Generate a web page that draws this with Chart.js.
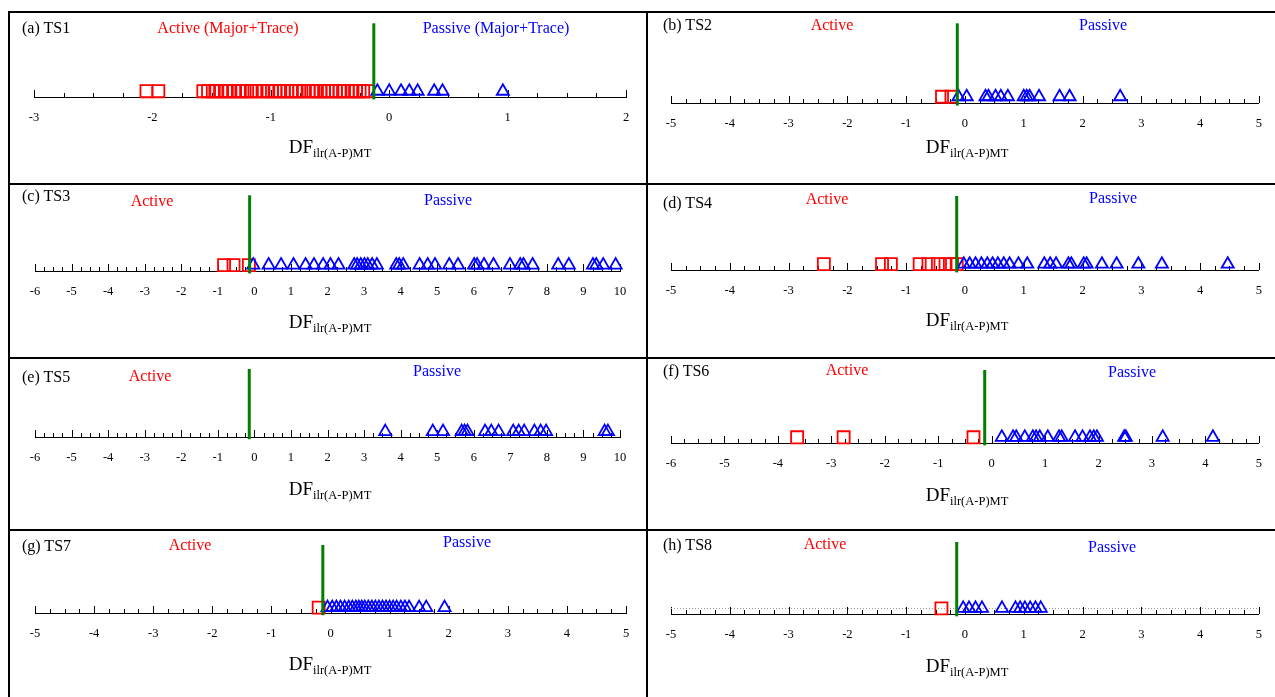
<!DOCTYPE html>
<html>
<head>
<meta charset="utf-8">
<script src="https://cdn.jsdelivr.net/npm/chart.js@4.4.1/dist/chart.umd.min.js"></script>
<style>
  body { margin: 0; width: 1275px; height: 697px; overflow: hidden; position: relative; background: #fff;
         font-family: 'Liberation Serif', 'Times New Roman', serif; }
  .rule { position: absolute; background: #000; }
  canvas { position: absolute; }
  .txt { position: absolute; white-space: nowrap; font-size: 16px; line-height: 1; transform: translateY(-50%); }
  .ctr { transform: translate(-50%, -50%); }
  .red { color: #ff0000; }
  .blue { color: #0000ff; }
  .df { font-size: 19px; }
  .df sub { font-size: 12.5px; vertical-align: -4px; }
</style>
</head>
<body>
<script>
// panel names and group labels
const panelNames = ['(a) TS1', '(b) TS2', '(c) TS3', '(d) TS4', '(e) TS5', '(f) TS6', '(g) TS7', '(h) TS8'];
const activeTitles = ['Active (Major+Trace)', 'Active', 'Active', 'Active', 'Active', 'Active', 'Active', 'Active'];
const passiveTitles = ['Passive (Major+Trace)', 'Passive', 'Passive', 'Passive', 'Passive', 'Passive', 'Passive', 'Passive'];

// axis ranges and discriminant cut-off (green line)
const xMin = [-3, -5, -6, -5, -6, -6, -5, -5];
const xMax = [2, 5, 10, 5, 10, 5, 5, 5];
const cutoff = [-0.13, -0.13, -0.13, -0.14, -0.14, -0.13, -0.13, -0.14];

// DF scores, active (squares) and passive (triangles)
const activeTS1 = [-2.05, -1.95, -1.57, -1.53, -1.49, -1.46, -1.42, -1.38, -1.35, -1.31, -1.27, -1.24, -1.20, -1.16,
                   -1.12, -1.07, -1.03, -0.99, -0.96, -0.92, -0.89, -0.86, -0.83, -0.79, -0.76, -0.72, -0.68, -0.64,
                   -0.61, -0.58, -0.55, -0.52, -0.48, -0.45, -0.42, -0.39, -0.35, -0.31, -0.28, -0.25, -0.22, -0.18];
const passiveTS1 = [-0.10, 0.00, 0.10, 0.17, 0.24, 0.38, 0.45, 0.96];
const activeTS2 = [-0.39, -0.23];
const passiveTS2 = [-0.11, 0.03, 0.35, 0.40, 0.52, 0.61, 0.73, 1.00, 1.05, 1.10, 1.26, 1.61, 1.78, 2.64];
const activeTS3 = [-0.83, -0.57, -0.15];
const passiveTS3 = [-0.03, 0.39, 0.73, 1.07, 1.40, 1.63, 1.88, 2.08, 2.30, 2.73, 2.81, 2.91, 3.01, 3.10, 3.22, 3.35,
                    3.88, 3.96, 4.07, 4.52, 4.74, 4.94, 5.33, 5.57, 6.01, 6.09, 6.28, 6.54, 6.99, 7.27, 7.36, 7.61,
                    8.31, 8.60, 9.26, 9.35, 9.54, 9.88];
const activeTS4 = [-2.40, -1.41, -1.26, -0.77, -0.62, -0.46, -0.33, -0.22, -0.14];
const passiveTS4 = [-0.02, 0.08, 0.18, 0.28, 0.38, 0.47, 0.56, 0.66, 0.76, 0.91, 1.06, 1.35, 1.45, 1.55, 1.76, 1.81,
                    2.02, 2.07, 2.33, 2.58, 2.95, 3.35, 4.47];
const activeTS5 = [];
const passiveTS5 = [3.58, 4.88, 5.16, 5.67, 5.75, 5.83, 6.31, 6.48, 6.68, 7.08, 7.23, 7.38, 7.66, 7.83, 7.98, 9.58, 9.67];
const activeTS6 = [-3.64, -2.77, -0.34];
const passiveTS6 = [0.19, 0.40, 0.46, 0.62, 0.77, 0.83, 0.90, 1.05, 1.26, 1.31, 1.56, 1.70, 1.84, 1.91, 1.97, 2.48,
                    2.51, 3.20, 4.14];
const activeTS7 = [-0.20];
const passiveTS7 = [-0.05, 0.03, 0.10, 0.17, 0.24, 0.31, 0.37, 0.43, 0.48, 0.53, 0.58, 0.64, 0.70, 0.76, 0.82, 0.88,
                    0.94, 1.00, 1.06, 1.12, 1.19, 1.26, 1.33, 1.50, 1.62, 1.93];
const activeTS8 = [-0.40];
const passiveTS8 = [-0.03, 0.07, 0.18, 0.29, 0.63, 0.86, 0.94, 1.02, 1.11, 1.20, 1.29];

const activeSets = [activeTS1, activeTS2, activeTS3, activeTS4, activeTS5, activeTS6, activeTS7, activeTS8];
const passiveSets = [passiveTS1, passiveTS2, passiveTS3, passiveTS4, passiveTS5, passiveTS6, passiveTS7, passiveTS8];

// page layout of every panel (pixels)
const layout = [
  { box: [10, 13, 637, 170],  x0: 34,  x1: 626,  axis: 97,  top: 20,  name: [22, 28],   act: [228, 28],  pas: [496, 28],  df: [330, 148] },
  { box: [649, 13, 626, 170], x0: 671, x1: 1264, axis: 103, top: 20,  name: [663, 25],  act: [832, 25],  pas: [1103, 25], df: [967, 148] },
  { box: [10, 185, 637, 172], x0: 35,  x1: 620,  axis: 271, top: 194, name: [22, 196],  act: [152, 201], pas: [448, 200], df: [330, 323] },
  { box: [649, 185, 626, 172],x0: 671, x1: 1264, axis: 270, top: 196, name: [663, 203], act: [827, 199], pas: [1113, 198],df: [967, 321] },
  { box: [10, 359, 637, 170], x0: 35,  x1: 620,  axis: 437, top: 369, name: [22, 377],  act: [150, 376], pas: [437, 371], df: [330, 490] },
  { box: [649, 359, 626, 170],x0: 671, x1: 1264, axis: 443, top: 370, name: [663, 371], act: [847, 370], pas: [1132, 372],df: [967, 496] },
  { box: [10, 531, 637, 166], x0: 35,  x1: 626,  axis: 613, top: 545, name: [22, 546],  act: [190, 545], pas: [467, 542], df: [330, 665] },
  { box: [649, 531, 626, 166],x0: 671, x1: 1264, axis: 614, top: 542, name: [663, 545], act: [825, 544], pas: [1112, 547],df: [967, 667] }
];

const SCALE_H = 40;
const Y_MIN = -0.085, Y_MAX = 1, LINE_LO = -0.12;

// frame lines
function rule(x, y, w, h) {
  const d = document.createElement('div');
  d.className = 'rule';
  Object.assign(d.style, { left: x + 'px', top: y + 'px', width: w + 'px', height: h + 'px' });
  document.body.appendChild(d);
}
rule(8, 11, 1267, 2);
rule(8, 183, 1267, 2);
rule(8, 357, 1267, 2);
rule(8, 529, 1267, 2);
rule(8, 11, 2, 686);
rule(646, 11, 2, 686);

function text(html, pos, cls, centred) {
  const d = document.createElement('div');
  d.className = 'txt ' + cls + (centred ? ' ctr' : '');
  d.innerHTML = html;
  d.style.left = pos[0] + 'px';
  d.style.top = pos[1] + 'px';
  document.body.appendChild(d);
}

// upward tick marks (major at integers) and optional dotted baseline
const upTicks = {
  id: 'upTicks',
  beforeDatasetsDraw(chart, args, opts) {
    const sx = chart.scales.x, sy = chart.scales.y, ctx = chart.ctx;
    const y = sx.top;
    ctx.save();
    ctx.strokeStyle = '#000';
    ctx.lineWidth = 1;
    sx.ticks.forEach(t => {
      const px = Math.round(sx.getPixelForValue(t.value)) + 0.5;
      const major = Math.abs(t.value - Math.round(t.value)) < 1e-9;
      ctx.beginPath();
      ctx.moveTo(px, y);
      ctx.lineTo(px, y - (major ? 7 : 4));
      ctx.stroke();
    });
    if (opts.dotted) {
      const py = Math.round(sy.getPixelForValue(0)) + 0.5;
      ctx.strokeStyle = '#999';
      ctx.setLineDash([1, 2]);
      ctx.beginPath();
      ctx.moveTo(chart.chartArea.left, py);
      ctx.lineTo(chart.chartArea.right, py);
      ctx.stroke();
    }
    ctx.restore();
  }
};

panelNames.forEach((name, i) => {
  const L = layout[i];
  const [bx, by, bw, bh] = L.box;

  const cv = document.createElement('canvas');
  cv.width = bw; cv.height = bh;
  cv.style.left = bx + 'px'; cv.style.top = by + 'px';
  document.body.appendChild(cv);

  new Chart(cv, {
    type: 'scatter',
    data: {
      datasets: [
        {
          data: [{ x: cutoff[i], y: LINE_LO }, { x: cutoff[i], y: Y_MAX }],
          showLine: true, borderColor: '#008000', borderWidth: 3, pointRadius: 0, clip: false, order: 0
        },
        {
          data: activeSets[i].map(v => ({ x: v, y: 0 })),
          pointStyle: 'rect', pointRadius: 8.5, borderColor: '#ff0000', borderWidth: 1.8,
          backgroundColor: 'rgba(0,0,0,0)', clip: false, order: 2
        },
        {
          data: passiveSets[i].map(v => ({ x: v, y: 0 })),
          pointStyle: 'triangle', pointRadius: 7, borderColor: '#0000ff', borderWidth: 1.8,
          backgroundColor: 'rgba(0,0,0,0)', clip: false, order: 1
        }
      ]
    },
    options: {
      responsive: false,
      animation: false,
      devicePixelRatio: 1,
      layout: {
        padding: { left: L.x0 - bx, right: bx + bw - L.x1, top: L.top - by, bottom: bh - (L.axis - by) - SCALE_H }
      },
      plugins: { legend: { display: false }, tooltip: { enabled: false }, upTicks: { dotted: i === 7 } },
      scales: {
        x: {
          type: 'linear', min: xMin[i], max: xMax[i],
          grid: { display: false, drawTicks: false },
          border: { display: true, color: '#000', width: 1 },
          afterFit: s => { s.height = SCALE_H; },
          ticks: {
            stepSize: 0.25, autoSkip: false, maxRotation: 0, padding: 13, color: '#000',
            font: { family: "'Liberation Serif', serif", size: 12.5 },
            callback: v => (Math.abs(v - Math.round(v)) < 1e-9 ? String(Math.round(v)) : '')
          }
        },
        y: { display: false, min: Y_MIN, max: Y_MAX }
      }
    },
    plugins: [upTicks]
  });

  text(name, L.name, '', false);
  text(activeTitles[i], L.act, 'red', true);
  text(passiveTitles[i], L.pas, 'blue', true);
  text('DF<sub>ilr(A-P)MT</sub>', L.df, 'df', true);
});
</script>
</body>
</html>
